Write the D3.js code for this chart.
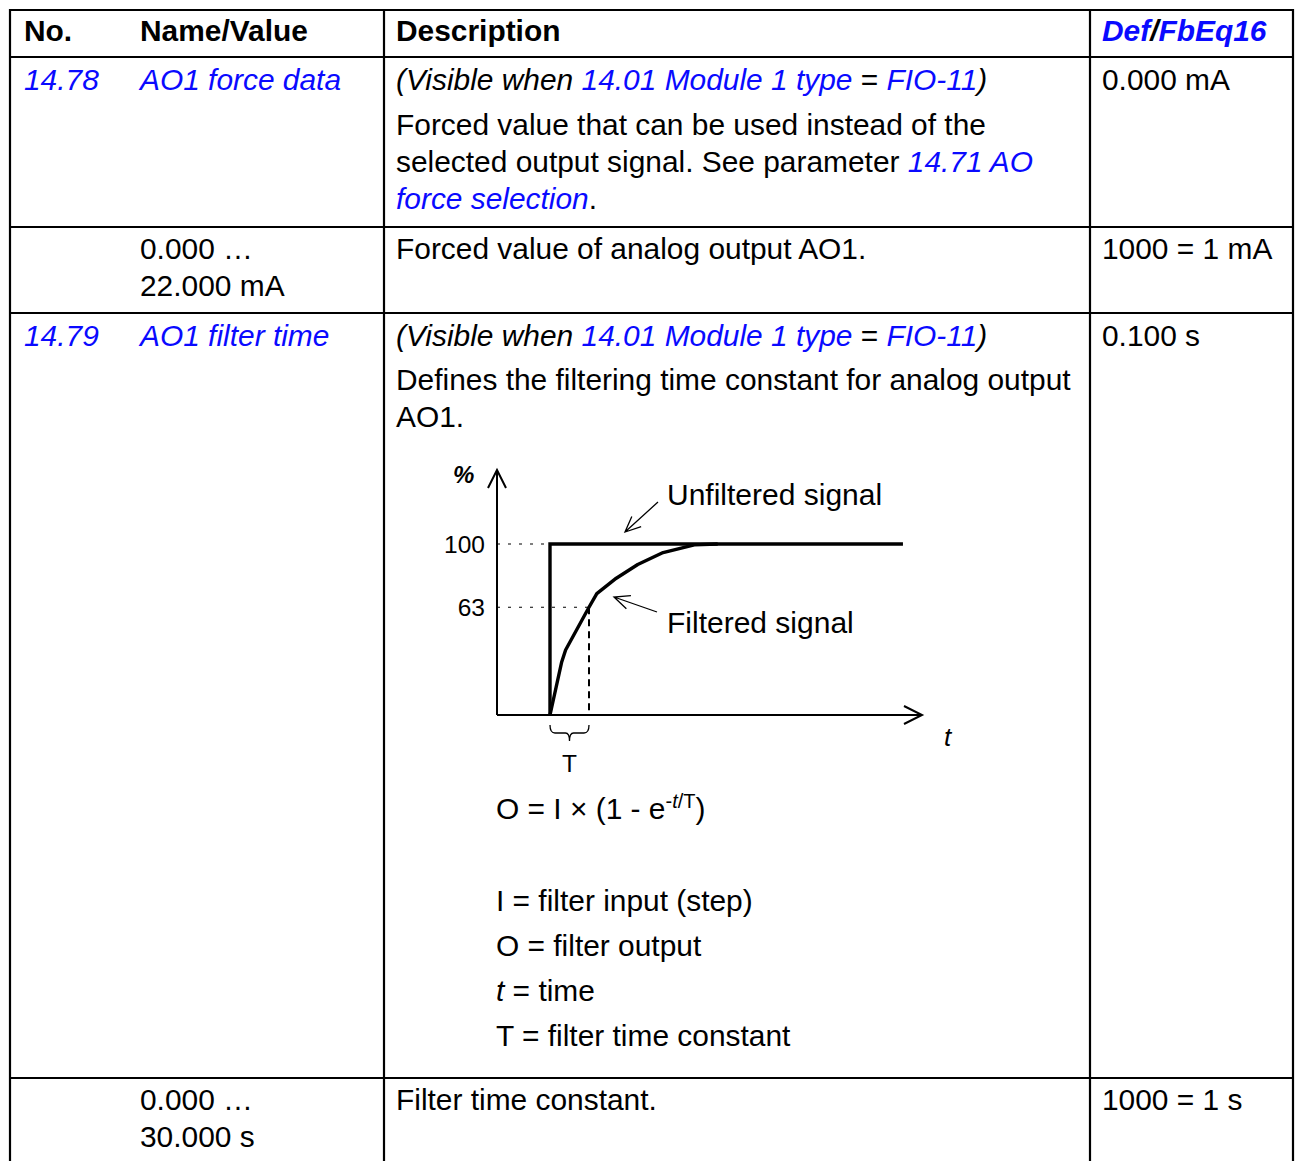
<!DOCTYPE html>
<html><head><meta charset="utf-8">
<script src="https://cdn.jsdelivr.net/npm/d3@7"></script>
<style>
html,body{margin:0;padding:0;background:#fff;}
svg{display:block;font-family:"Liberation Sans",Arial,sans-serif;}
</style></head>
<body>
<script>
// ---- data ----
const headers = ["No.", "Name/Value", "Description", "Def/FbEq16"];
const yTickValues = [63, 100];
const unfilteredSignal = [[0, 0], [0, 100], [9.05, 100]];
const filteredSignal = [[0, 0], [0.3, 31], [0.4, 38], [1, 63], [1.2, 71], [1.7, 80], [2.25, 88], [2.9, 95], [3.7, 99.5], [4.3, 100]];
const timeConstant = 1;
const legendLines = ["I = filter input (step)", "O = filter output", "t = time", "T = filter time constant"];

const W = 1301, H = 1161, BLUE = "#0a0aff", FS = 29.9;
const svg = d3.select("body").append("svg").attr("width", W).attr("height", H);

// table grid
const colX = [10, 384, 1090, 1293];
const rowY = [10, 57, 227, 313, 1078];
const grid = svg.append("g").attr("stroke", "#000").attr("stroke-width", 2.2);
colX.forEach(x => grid.append("line").attr("x1", x).attr("x2", x).attr("y1", 9).attr("y2", H));
rowY.forEach(y => grid.append("line").attr("x1", 9).attr("x2", 1294).attr("y1", y).attr("y2", y));

// rich text helper: segments [text, {blue, italic, bold}]
function rich(x, y, segs, size) {
  const t = svg.append("text").attr("x", x).attr("y", y).attr("font-size", size || FS).attr("fill", "#000");
  segs.forEach(s => {
    const o = s[1] || {};
    const sp = t.append("tspan").text(s[0]);
    if (o.blue) sp.attr("fill", BLUE);
    if (o.italic) sp.attr("font-style", "italic");
    if (o.bold) sp.attr("font-weight", "bold");
    if (o.dy) sp.attr("dy", o.dy);
    if (o.size) sp.attr("font-size", o.size);
  });
  return t;
}
const colTx = [24, 140, 396, 1102];

// header
rich(colTx[0], 41, [[headers[0], {bold: true}]]);
rich(colTx[1], 41, [[headers[1], {bold: true}]]);
rich(colTx[2], 41, [[headers[2], {bold: true}]]);
rich(colTx[3], 41, [["Def", {bold: true, italic: true, blue: true}], ["/", {bold: true, italic: true}], ["FbEq16", {bold: true, italic: true, blue: true}]]);

const visible = [["(Visible when ", {italic: true}], ["14.01 Module 1 type", {italic: true, blue: true}], [" = "], ["FIO-11", {italic: true, blue: true}], [")", {italic: true}]];

// row 1
rich(colTx[0], 90, [["14.78", {italic: true, blue: true}]]);
rich(colTx[1], 90, [["AO1 force data", {italic: true, blue: true}]]);
rich(colTx[2], 90, visible);
rich(colTx[2], 135, [["Forced value that can be used instead of the"]]);
rich(colTx[2], 172, [["selected output signal. See parameter "], ["14.71 AO", {italic: true, blue: true}]]);
rich(colTx[2], 209, [["force selection", {italic: true, blue: true}], ["."]]);
rich(colTx[3], 90, [["0.000 mA"]]);

// row 2
rich(colTx[1], 259, [["0.000 …"]]);
rich(colTx[1], 296, [["22.000 mA"]]);
rich(colTx[2], 259, [["Forced value of analog output AO1."]]);
rich(colTx[3], 259, [["1000 = 1 mA"]]);

// row 3
rich(colTx[0], 346, [["14.79", {italic: true, blue: true}]]);
rich(colTx[1], 346, [["AO1 filter time", {italic: true, blue: true}]]);
rich(colTx[2], 346, visible);
rich(colTx[2], 390, [["Defines the filtering time constant for analog output"]]);
rich(colTx[2], 427, [["AO1."]]);
rich(colTx[3], 346, [["0.100 s"]]);

// ---- diagram ----
const x = d3.scaleLinear().domain([0, 1]).range([550, 589]);
const y = d3.scaleLinear().domain([0, 100]).range([715, 544]);
const x0 = x.invert(497), xEnd = x.invert(922), yTop = y.invert(470);
const g = svg.append("g");

// dotted reference lines
yTickValues.forEach(v => {
  g.append("line").attr("x1", x(x0)).attr("x2", v === 100 ? x(0) : x(timeConstant))
    .attr("y1", y(v)).attr("y2", y(v)).attr("stroke", "#000").attr("stroke-width", 1.2)
    .attr("stroke-dasharray", "3,8");
  g.append("text").attr("x", 485).attr("y", y(v) + 8.5).attr("text-anchor", "end")
    .attr("font-size", 24.5).text(v);
});
// T dashed
g.append("line").attr("x1", x(timeConstant)).attr("x2", x(timeConstant)).attr("y1", y(63)).attr("y2", y(0))
  .attr("stroke", "#000").attr("stroke-width", 2).attr("stroke-dasharray", "7,5");

// axes
const ax = g.append("g").attr("stroke", "#000").attr("stroke-width", 2).attr("fill", "none");
ax.append("line").attr("x1", x(x0)).attr("x2", x(x0)).attr("y1", y(0)).attr("y2", y(yTop));
ax.append("line").attr("x1", x(x0)).attr("x2", x(xEnd)).attr("y1", y(0)).attr("y2", y(0));
ax.append("path").attr("d", `M${x(x0) - 9},${y(yTop) + 18}L${x(x0)},${y(yTop)}L${x(x0) + 9},${y(yTop) + 18}`);
ax.append("path").attr("d", `M${x(xEnd) - 18},${y(0) - 9}L${x(xEnd)},${y(0)}L${x(xEnd) - 18},${y(0) + 9}`);

const line = d3.line().x(d => x(d[0])).y(d => y(d[1]));
g.append("path").datum(unfilteredSignal).attr("d", line).attr("fill", "none")
  .attr("stroke", "#000").attr("stroke-width", 3.4).attr("stroke-linejoin", "miter");
g.append("path").datum(filteredSignal).attr("d", line).attr("fill", "none")
  .attr("stroke", "#000").attr("stroke-width", 3.4).attr("stroke-linejoin", "round");

// brace under T
const bx0 = x(0), bx1 = x(timeConstant), bm = (bx0 + bx1) / 2;
g.append("path").attr("d",
  `M${bx0},${725} Q${bx0},${733} ${bx0 + 5},${733} L${bm - 4},${733} Q${bm},${733} ${bm},${741} Q${bm},${733} ${bm + 4},${733} L${bx1 - 5},${733} Q${bx1},${733} ${bx1},${725}`)
  .attr("fill", "none").attr("stroke", "#000").attr("stroke-width", 1.3);
g.append("text").attr("x", bm).attr("y", 772).attr("text-anchor", "middle").attr("font-size", 24.5).text("T");

// labels and pointer arrows
g.append("text").attr("x", 453).attr("y", 483).attr("font-size", 24).attr("font-weight", "bold").attr("font-style", "italic").text("%");
g.append("text").attr("x", 944).attr("y", 746).attr("font-size", 26).attr("font-style", "italic").text("t");
g.append("text").attr("x", 667).attr("y", 505).attr("font-size", 30).text("Unfiltered signal");
g.append("text").attr("x", 667).attr("y", 633).attr("font-size", 30).text("Filtered signal");

function pointer(x1, y1, x2, y2) {
  const a = Math.atan2(y2 - y1, x2 - x1), L = 17, s = 0.42;
  const p1 = [x2 - L * Math.cos(a - s), y2 - L * Math.sin(a - s)];
  const p2 = [x2 - L * Math.cos(a + s), y2 - L * Math.sin(a + s)];
  g.append("path").attr("d", `M${x1},${y1}L${x2},${y2}M${p1}L${x2},${y2}L${p2}`)
    .attr("fill", "none").attr("stroke", "#000").attr("stroke-width", 1.3);
}
pointer(658, 502, 625, 532);
pointer(657, 612, 614, 597);

// formula
rich(496, 819, [["O = I × (1 - e"], ["-", {dy: -11, size: 20}], ["t", {italic: true, size: 20}], ["/T", {size: 20}], [")", {dy: 11}]]);

// legend
const legendY = [911, 956, 1001, 1046];
legendLines.forEach((l, i) => {
  if (l.startsWith("t ")) rich(496, legendY[i], [["t", {italic: true}], [l.slice(1)]]);
  else rich(496, legendY[i], [[l]]);
});

// row 4
rich(colTx[1], 1110, [["0.000 …"]]);
rich(colTx[1], 1147, [["30.000 s"]]);
rich(colTx[2], 1110, [["Filter time constant."]]);
rich(colTx[3], 1110, [["1000 = 1 s"]]);
</script>
</body></html>
